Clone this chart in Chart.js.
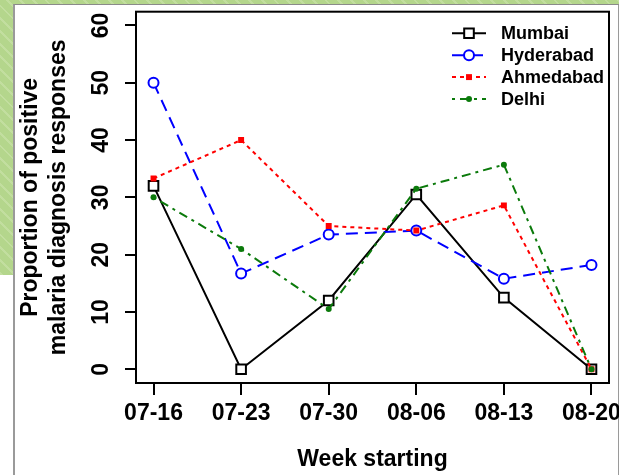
<!DOCTYPE html>
<html>
<head>
<meta charset="utf-8">
<script src="https://cdn.jsdelivr.net/npm/chart.js@4/dist/chart.umd.min.js"></script>
<style>
  html, body { margin: 0; padding: 0; }
  #bg { position: absolute; left: 0; top: 0; width: 619px; height: 475px; overflow: hidden;
        background: repeating-linear-gradient(45deg, #b4d68c 0px, #b4d68c 7px, #c2de9f 7px, #c2de9f 9px); }
  #panel { position: absolute; left: 13px; top: 4px; width: 603px; height: 471px; background: #fff;
           border-left: 2px solid #9a9a9a; border-top: 1px solid #8a8a8a; border-right: 2px solid #9a9a9a; }
  #lowleft { position: absolute; left: 0; top: 275px; width: 13px; height: 200px; background: #fff; }
  canvas { position: absolute; left: 0; top: 0; }
</style>
</head>
<body>
<div id="bg"></div>
<div id="panel"></div>
<div id="lowleft"></div>
<canvas id="c" width="619" height="475"></canvas>
<script>
const weeks = ['07-16', '07-23', '07-30', '08-06', '08-13', '08-20'];
const mumbai = [32.0, 0, 12.0, 30.5, 12.5, 0];
const hyderabad = [50.0, 16.7, 23.5, 24.2, 15.8, 18.2];
const ahmedabad = [33.3, 40.0, 25.0, 24.2, 28.6, 0];
const delhi = [30.0, 21.0, 10.5, 31.5, 35.7, 0];
const yTicks = [0, 10, 20, 30, 40, 50, 60];
const seriesNames = ['Mumbai', 'Hyderabad', 'Ahmedabad', 'Delhi'];

const FONT = '"Liberation Sans", Arial, Helvetica, sans-serif';
const toPts = arr => arr.map((v, i) => ({ x: i, y: v }));

const datasets = [
  { label: seriesNames[0], data: toPts(mumbai), borderColor: '#000000', borderWidth: 2, borderDash: [],
    pointStyle: 'rect', pointRadius: 6.8, pointBorderWidth: 2, pointBorderColor: '#000000', pointBackgroundColor: '#ffffff', order: 4 },
  { label: seriesNames[1], data: toPts(hyderabad), borderColor: '#0000ff', borderWidth: 2, borderDash: [12, 7],
    pointStyle: 'circle', pointRadius: 5, pointBorderWidth: 2, pointBorderColor: '#0000ff', pointBackgroundColor: '#ffffff', order: 3 },
  { label: seriesNames[2], data: toPts(ahmedabad), borderColor: '#ff0000', borderWidth: 2, borderDash: [4, 4],
    pointStyle: 'rect', pointRadius: 4.2, pointBorderWidth: 0, pointBorderColor: '#ff0000', pointBackgroundColor: '#ff0000', order: 2 },
  { label: seriesNames[3], data: toPts(delhi), borderColor: '#0b7a0b', borderWidth: 2, borderDash: [3, 5, 9, 5],
    pointStyle: 'circle', pointRadius: 3, pointBorderWidth: 0, pointBorderColor: '#0b7a0b', pointBackgroundColor: '#0b7a0b', order: 1 }
];
datasets.forEach(d => { d.fill = false; d.tension = 0; d.pointHoverRadius = d.pointRadius; });

const boxPlugin = {
  id: 'boxAndLabels',
  afterDraw(chart) {
    const ctx = chart.ctx;
    const a = chart.chartArea;
    ctx.save();
    ctx.strokeStyle = '#000';
    ctx.lineWidth = 2;
    ctx.strokeRect(a.left, a.top, a.right - a.left, a.bottom - a.top);
    // rotated y tick labels
    const ys = chart.scales.y;
    ctx.fillStyle = '#000';
    ctx.font = 'bold 23px ' + FONT;
    ctx.textAlign = 'center';
    ctx.textBaseline = 'middle';
    ys.ticks.forEach(t => {
      const py = ys.getPixelForValue(t.value);
      ctx.save();
      ctx.translate(101.5, py);
      ctx.rotate(-Math.PI / 2);
      ctx.fillText(String(t.value), 0, 0);
      ctx.restore();
    });
    // legend
    const lx0 = 452, lx1 = 486, mx = 469, tx = 501;
    chart.data.datasets.forEach((d, i) => {
      const y = 33.3 + i * 21.9;
      ctx.save();
      ctx.strokeStyle = d.borderColor;
      ctx.lineWidth = 2;
      ctx.setLineDash(d.borderDash);
      ctx.beginPath();
      ctx.moveTo(lx0, y); ctx.lineTo(lx1, y);
      ctx.stroke();
      ctx.setLineDash([]);
      ctx.fillStyle = d.pointBackgroundColor;
      ctx.beginPath();
      if (d.pointStyle === 'rect') {
        const s = Math.SQRT1_2 * d.pointRadius;
        ctx.rect(mx - s, y - s, 2 * s, 2 * s);
      } else {
        ctx.arc(mx, y, d.pointRadius, 0, Math.PI * 2);
      }
      ctx.fill();
      if (d.pointBorderWidth > 0) { ctx.lineWidth = d.pointBorderWidth; ctx.strokeStyle = d.pointBorderColor; ctx.stroke(); }
      ctx.restore();
      ctx.fillStyle = '#000';
      ctx.font = 'bold 18px ' + FONT;
      ctx.textAlign = 'left';
      ctx.textBaseline = 'middle';
      ctx.fillText(d.label, tx, y + 1);
    });
    ctx.restore();
  }
};

new Chart(document.getElementById('c'), {
  type: 'line',
  data: { datasets },
  plugins: [boxPlugin],
  options: {
    responsive: false,
    animation: false,
    devicePixelRatio: 1,
    layout: { padding: { top: 11.7, right: 10, left: 0, bottom: 0 } },
    plugins: { legend: { display: false }, tooltip: { enabled: false } },
    scales: {
      x: {
        type: 'linear', min: -0.2, max: 5.2,
        afterBuildTicks: s => { s.ticks = weeks.map((w, i) => ({ value: i })); },
        afterFit: s => { s.height = 92; s.paddingLeft = 0; s.paddingRight = 0; },
        ticks: { callback: v => weeks[v], color: '#000', font: { family: FONT, size: 23, weight: 'bold' }, padding: 5, maxRotation: 0, autoSkip: false },
        grid: { drawOnChartArea: false, drawTicks: true, tickLength: 12, color: '#000', lineWidth: 2 },
        border: { display: false },
        title: { display: true, text: 'Week starting', color: '#000', font: { family: FONT, size: 23, weight: 'bold' }, padding: { top: 0, bottom: 2 } }
      },
      y: {
        type: 'linear', min: -2.4, max: 62.4,
        afterBuildTicks: s => { s.ticks = yTicks.map(v => ({ value: v })); },
        afterFit: s => { s.width = 136; s.paddingTop = 0; s.paddingBottom = 0; },
        ticks: { display: false },
        grid: { drawOnChartArea: false, drawTicks: true, tickLength: 11, color: '#000', lineWidth: 2 },
        border: { display: false },
        title: { display: true, text: ['Proportion of positive', 'malaria diagnosis responses'], color: '#000', font: { family: FONT, size: 23, weight: 'bold' }, padding: { top: 17, bottom: 0 } }
      }
    }
  }
});
</script>
</body>
</html>
